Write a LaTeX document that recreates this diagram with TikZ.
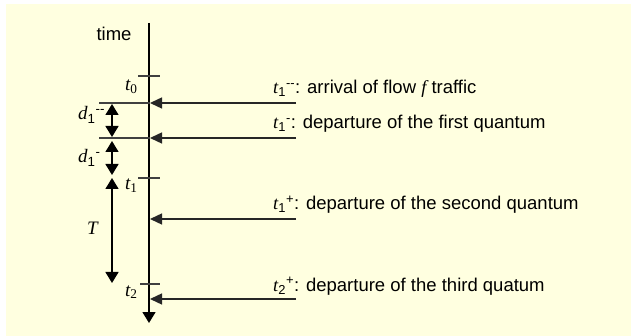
\documentclass[tikz,border=0pt]{standalone}
\usepackage{fontspec}
\setmainfont{Liberation Sans}
\newfontfamily\tmsfont{Liberation Serif}
\usetikzlibrary{arrows.meta}
\definecolor{paper}{RGB}{255,255,224}
\newcommand{\tv}[1]{{\tmsfont\itshape #1}}

\begin{document}
\begin{tikzpicture}[x=1pt, y=-1pt,
    lbl/.style={anchor=base west, inner sep=0pt, font=\fontsize{18.5}{21}\selectfont},
    vlbl/.style={anchor=base west, inner sep=0pt, font=\fontsize{19}{21}\tmsfont\itshape},
    arr/.style={-{Triangle[length=12pt,width=11pt]}, line width=1.4pt, black!85},
    darr/.style={{Triangle[length=11pt,width=13pt]}-{Triangle[length=11pt,width=13pt]}, line width=1.4pt},
    tick/.style={line width=1.3pt, black!75}
]
\useasboundingbox (0,0) rectangle (631,336);
\fill[paper] (6,4) rectangle (631,336);

% time axis
\coordinate (top) at (149,23);
\coordinate (bot) at (149,323);
\draw[line width=1.5pt, -{Triangle[length=11pt,width=13pt]}] (top) -- (bot);
\node[lbl, anchor=base] (time) at (114,41) {time};

% instants on the axis
\draw[tick] (138,76) -- (160,76);
\draw[tick] (138,178) -- (160,178);
\draw[tick] (140,284) -- (160,284);
\node[vlbl] (t0) at (125,91) {t\textsubscript{\upshape 0}};
\node[vlbl] (t1) at (125,190) {t\textsubscript{\upshape 1}};
\node[vlbl] (t2) at (125,296) {t\textsubscript{\upshape 2}};

% events coming in from the right
\coordinate (e1) at (296,103);  \coordinate (a1) at (150,103);
\coordinate (e2) at (296,138);  \coordinate (a2) at (150,138);
\coordinate (e3) at (296,219);  \coordinate (a3) at (150,219);
\coordinate (e4) at (296,299);  \coordinate (a4) at (150,299);
\draw[arr] (e1) -- (a1);
\draw[arr] (e2) -- (a2);
\draw[arr] (e3) -- (a3);
\draw[arr] (e4) -- (a4);
\draw[tick] (99,103) -- (a1);
\draw[tick] (99,138) -- (a2);

\node[lbl] (ev1) at (273,94) {\tv{t}\textsubscript{1}\textsuperscript{-{}-}: arrival of flow \tv{f} traffic};
\node[lbl] (ev2) at (273,129) {\tv{t}\textsubscript{1}\textsuperscript{-}: departure of the first quantum};
\node[lbl] (ev3) at (273,210) {\tv{t}\textsubscript{1}\textsuperscript{+}: departure of the second quantum};
\node[lbl] (ev4) at (273,291) {\tv{t}\textsubscript{2}\textsuperscript{+}: departure of the third quatum};

% spacings
\coordinate (d1a) at (112,104); \coordinate (d1b) at (112,137);
\coordinate (d2a) at (112,141); \coordinate (d2b) at (112,175);
\coordinate (Ta) at (112,178);  \coordinate (Tb) at (112,283);
\draw[darr] (d1a) -- (d1b);
\draw[darr] (d2a) -- (d2b);
\draw[darr] (Ta) -- (Tb);
\node[vlbl] (d1) at (78,120) {d\textsubscript{\normalfont 1}\textsuperscript{\normalfont -{}-}};
\node[vlbl] (d2) at (78,163) {d\textsubscript{\normalfont 1}\textsuperscript{\normalfont -}};
\node[vlbl] (T) at (87,235) {T};
\end{tikzpicture}
\end{document}
